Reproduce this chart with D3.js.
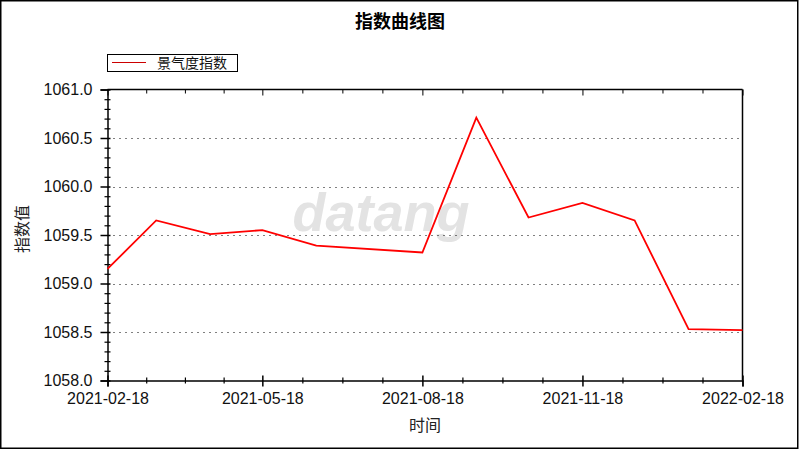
<!DOCTYPE html>
<html>
<head>
<meta charset="utf-8">
<script src="https://cdn.jsdelivr.net/npm/d3@7/dist/d3.min.js"></script>
<style>
  html, body { margin: 0; padding: 0; background: #fff; }
  svg { display: block; }
</style>
</head>
<body>
<svg id="chart" width="800" height="450"></svg>
<script>
// ---- data ----
const dates = ["2021-02-18","2021-03-18","2021-04-18","2021-05-18","2021-06-18","2021-08-18",
               "2021-09-18","2021-10-18","2021-11-18","2021-12-18","2022-01-18","2022-02-18"];
const values = [1059.15, 1059.65, 1059.51, 1059.55, 1059.39, 1059.32,
                1060.71, 1059.68, 1059.83, 1059.65, 1058.53, 1058.52];
const xTickDates = ["2021-02-18","2021-05-18","2021-08-18","2021-11-18","2022-02-18"];
const yTicks = [1058.0, 1058.5, 1059.0, 1059.5, 1060.0, 1060.5, 1061.0];
const seriesName = "景气度指数";
const titleText = "指数曲线图";
const xTitle = "时间";
const yTitle = "指数值";

// ---- layout ----
const W = 800, H = 450;
const L = 107.5, R = 742.5, T = 89.5, B = 380.5;
const cjk = "'Noto Sans CJK SC', 'Noto Sans', sans-serif";
const latin = "'Liberation Sans', Arial, sans-serif";

const parse = d3.utcParse("%Y-%m-%d");
const data = dates.map((d, i) => ({ date: parse(d), value: values[i] }));
const majors = xTickDates.map(parse);

const x = d3.scaleUtc().domain([majors[0], majors[majors.length - 1]]).range([L, R]);
const y = d3.scaleLinear().domain([yTicks[0], yTicks[yTicks.length - 1]]).range([B, T]);

// minor ticks: 4 subdivisions per major interval (x), 0.1 step (y)
const xMinor = [];
for (let i = 0; i < majors.length - 1; i++) {
  const a = +majors[i], b = +majors[i + 1];
  for (let k = 1; k < 4; k++) xMinor.push(new Date(a + (b - a) * k / 4));
}
const yMinor = [];
for (let i = 0; i < yTicks.length - 1; i++) {
  for (let k = 1; k < 5; k++) yMinor.push(yTicks[i] + (yTicks[i + 1] - yTicks[i]) * k / 5);
}

const svg = d3.select("#chart");
svg.append("rect").attr("x", 0).attr("y", 0).attr("width", W).attr("height", H).attr("fill", "#fff");
svg.append("rect").attr("x", 0.75).attr("y", 0.75).attr("width", W - 3).attr("height", H - 2.5)
  .attr("fill", "none").attr("stroke", "#000").attr("stroke-width", 1.5);

// title
svg.append("text").attr("x", 400).attr("y", 28).attr("text-anchor", "middle")
  .style("font-family", cjk).style("font-size", "18px").style("font-weight", "bold")
  .text(titleText);

// watermark
svg.append("text").attr("x", 381).attr("y", 231).attr("text-anchor", "middle")
  .style("font-family", latin).style("font-size", "54px").style("font-weight", "bold")
  .style("font-style", "italic").attr("fill", "#e3e3e3")
  .text("datang");

// gridlines
svg.append("g").selectAll("line").data(yTicks.slice(1, -1)).join("line")
  .attr("x1", L).attr("x2", R).attr("y1", d => Math.round(y(d)) + 0.5).attr("y2", d => Math.round(y(d)) + 0.5)
  .attr("stroke", "#000").attr("stroke-width", 1).attr("stroke-dasharray", "1,5");

// plot frame (top and right)
svg.append("line").attr("x1", L).attr("x2", R).attr("y1", T).attr("y2", T).attr("stroke", "#000").attr("stroke-width", 1.5);
svg.append("line").attr("x1", R).attr("x2", R).attr("y1", T).attr("y2", B).attr("stroke", "#000").attr("stroke-width", 1.5);

// top axis ticks pointing inward
const topAxis = d3.axisTop(x).tickValues(majors).tickSize(-6).tickFormat("");
const gTop = svg.append("g").attr("transform", `translate(0,${T})`).call(topAxis);
gTop.select(".domain").remove();
const topMinor = d3.axisTop(x).tickValues(xMinor).tickSize(-4).tickFormat("");
const gTopM = svg.append("g").attr("transform", `translate(0,${T})`).call(topMinor);
gTopM.select(".domain").remove();

// bottom axis
const bottomAxis = d3.axisBottom(x).tickValues(majors).tickSize(6).tickPadding(6)
  .tickFormat(d3.utcFormat("%Y-%m-%d"));
const gB = svg.append("g").attr("transform", `translate(0,${B})`).call(bottomAxis);
gB.select(".domain").attr("stroke-width", 1.5);
gB.selectAll(".tick line").attr("y1", -5).attr("stroke-width", 1.5);
gB.selectAll(".tick text").style("font-family", latin).style("font-size", "16px").attr("fill", "#111");
const bottomMinor = d3.axisBottom(x).tickValues(xMinor).tickSize(3).tickFormat("");
const gBM = svg.append("g").attr("transform", `translate(0,${B})`).call(bottomMinor);
gBM.select(".domain").remove();
gBM.selectAll(".tick line").attr("y1", -3).attr("stroke-width", 1.2);

// left axis
const leftAxis = d3.axisLeft(y).tickValues(yTicks).tickSize(7).tickPadding(8)
  .tickFormat(d3.format(".1f"));
const gL = svg.append("g").attr("transform", `translate(${L},0)`).call(leftAxis);
gL.select(".domain").attr("stroke-width", 1.5);
gL.selectAll(".tick line").attr("x1", 3).attr("stroke-width", 1.5);
gL.selectAll(".tick text").style("font-family", latin).style("font-size", "16px").attr("fill", "#111");
const leftMinor = d3.axisLeft(y).tickValues(yMinor).tickSize(3).tickFormat("");
const gLM = svg.append("g").attr("transform", `translate(${L},0)`).call(leftMinor);
gLM.select(".domain").remove();
gLM.selectAll(".tick line").attr("x1", 3).attr("stroke-width", 1.2);

// axis titles
svg.append("text").attr("x", 425).attr("y", 431).attr("text-anchor", "middle")
  .style("font-family", cjk).style("font-size", "16px").attr("fill", "#222").text(xTitle);
svg.append("text").attr("transform", "translate(28,229) rotate(-90)").attr("text-anchor", "middle")
  .style("font-family", cjk).style("font-size", "16px").attr("fill", "#222").text(yTitle);

// line
const line = d3.line().x(d => x(d.date)).y(d => y(d.value));
svg.append("path").datum(data).attr("d", line)
  .attr("fill", "none").attr("stroke", "#ff0000").attr("stroke-width", 1.8).attr("stroke-linejoin", "miter");

// legend
const lg = svg.append("g");
lg.append("rect").attr("x", 107.5).attr("y", 54.5).attr("width", 130).attr("height", 17)
  .attr("fill", "#fff").attr("stroke", "#000").attr("stroke-width", 1);
lg.append("line").attr("x1", 112).attr("x2", 146).attr("y1", 62.5).attr("y2", 62.5)
  .attr("stroke", "#cc0000").attr("stroke-width", 1.2);
lg.append("text").attr("x", 157).attr("y", 68).style("font-family", cjk).style("font-size", "14px")
  .attr("fill", "#111").text(seriesName);
</script>
</body>
</html>
